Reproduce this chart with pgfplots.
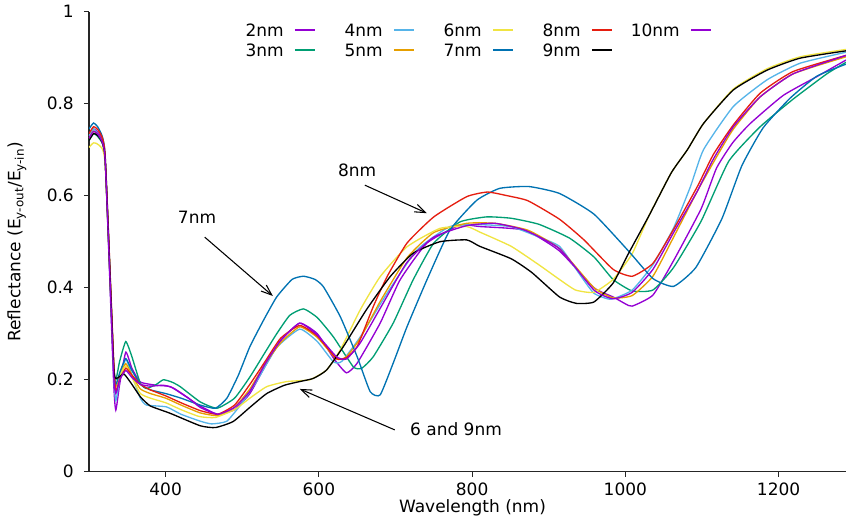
\documentclass[border=0pt]{standalone}
\usepackage{pgfplots}
\pgfplotsset{compat=1.18}
\usepackage{fontspec}
\setmainfont{DejaVu Sans}
\usetikzlibrary{arrows.meta}
\definecolor{cA}{HTML}{9400D3}
\definecolor{cB}{HTML}{009E73}
\definecolor{cC}{HTML}{56B4E9}
\definecolor{cD}{HTML}{E69F00}
\definecolor{cE}{HTML}{F0E442}
\definecolor{cF}{HTML}{0072B2}
\definecolor{cG}{HTML}{E51E10}
\begin{document}
\fontsize{12.75pt}{15pt}\selectfont
\begin{tikzpicture}
\begin{axis}[
  scale only axis,
  width=567.75pt, height=345pt,
  xmin=300, xmax=1288, ymin=0, ymax=1,
  axis lines*=left,
  axis line style={-, line width=0.9pt, black!85},
  tick style={line width=0.9pt, black!85},
  tick align=outside,
  major tick length=3.75pt,
  xtick={400,600,800,1000,1200},
  ytick={0,0.2,0.4,0.6,0.8,1},
  /pgf/number format/assume math mode=true,
  /pgf/number format/1000 sep={},
  yticklabel style={xshift=-3.2pt},
  xlabel={Wavelength (nm)},
  ylabel={Reflectance (E\textsubscript{y-out}/E\textsubscript{y-in})},
  every axis x label/.style={at={(axis description cs:0.5066,-0.0789)}, anchor=center},
  every axis y label/.style={at={(axis description cs:-0.0951,0.5)}, anchor=center, rotate=90},
  every axis plot/.append style={line width=1pt, smooth, tension=0.3},
]
% 2nm
\addplot[cA] coordinates {
(300,0.73)(306,0.745)(313,0.735)(321,0.68)(332,0.20)(335,0.134)(340,0.19)(348,0.26)(356,0.225)(367,0.195)(388,0.188)(406,0.185)(425,0.165)(445,0.143)(468,0.125)(490,0.135)(510,0.17)(530,0.23)(550,0.285)(575,0.323)(598,0.30)(620,0.245)(636,0.215)(650,0.236)(680,0.323)(706,0.417)(741,0.497)(784,0.536)(810,0.533)(869,0.525)(914,0.48)(959,0.40)(984,0.38)(1000,0.365)(1009,0.36)(1036,0.384)(1063,0.459)(1099,0.572)(1119,0.66)(1140,0.715)(1163,0.757)(1206,0.818)(1250,0.859)(1288,0.895)};
% 3nm
\addplot[cB] coordinates {
(300,0.72)(306,0.735)(313,0.725)(321,0.68)(332,0.24)(335,0.20)(340,0.24)(348,0.283)(356,0.25)(367,0.192)(375,0.181)(388,0.19)(397,0.20)(408,0.195)(419,0.185)(445,0.152)(467,0.138)(490,0.16)(510,0.206)(530,0.26)(545,0.30)(562,0.34)(580,0.354)(598,0.335)(619,0.293)(645,0.228)(656,0.225)(671,0.25)(697,0.323)(723,0.417)(750,0.497)(784,0.543)(819,0.554)(851,0.551)(887,0.538)(927,0.508)(959,0.467)(984,0.418)(1009,0.393)(1036,0.395)(1063,0.444)(1099,0.545)(1135,0.675)(1176,0.75)(1219,0.81)(1263,0.865)(1288,0.89)};
% 4nm
\addplot[cC] coordinates {
(300,0.73)(306,0.745)(313,0.73)(321,0.68)(332,0.22)(335,0.155)(340,0.20)(348,0.245)(356,0.21)(367,0.16)(375,0.145)(401,0.141)(420,0.125)(445,0.11)(460,0.104)(480,0.11)(500,0.15)(520,0.20)(545,0.27)(575,0.31)(598,0.283)(619,0.239)(630,0.24)(654,0.293)(689,0.388)(728,0.482)(771,0.533)(810,0.537)(850,0.533)(880,0.515)(914,0.49)(940,0.43)(959,0.388)(981,0.375)(1009,0.395)(1036,0.45)(1063,0.53)(1085,0.62)(1102,0.70)(1141,0.794)(1185,0.852)(1228,0.888)(1288,0.912)};
% 5nm
\addplot[cD] coordinates {
(300,0.725)(306,0.74)(313,0.73)(321,0.68)(332,0.24)(335,0.185)(340,0.21)(348,0.235)(356,0.21)(367,0.18)(380,0.17)(400,0.16)(420,0.145)(445,0.128)(468,0.122)(490,0.14)(510,0.18)(530,0.235)(550,0.28)(575,0.315)(598,0.292)(623,0.245)(636,0.25)(654,0.29)(680,0.37)(715,0.465)(750,0.52)(793,0.54)(830,0.54)(873,0.525)(914,0.485)(959,0.40)(984,0.378)(1009,0.383)(1036,0.425)(1063,0.51)(1094,0.61)(1121,0.69)(1141,0.745)(1176,0.815)(1219,0.865)(1288,0.902)};
% 6nm
\addplot[cE] coordinates {
(300,0.705)(306,0.715)(313,0.71)(321,0.67)(332,0.24)(335,0.19)(340,0.21)(348,0.23)(356,0.205)(367,0.17)(380,0.16)(400,0.15)(420,0.135)(444,0.12)(465,0.118)(490,0.135)(510,0.16)(532,0.185)(558,0.196)(588,0.20)(610,0.221)(628,0.265)(654,0.352)(680,0.424)(715,0.489)(758,0.529)(793,0.533)(810,0.521)(851,0.49)(887,0.45)(914,0.418)(935,0.395)(959,0.39)(984,0.418)(1009,0.474)(1031,0.557)(1060,0.65)(1081,0.70)(1102,0.757)(1141,0.832)(1185,0.876)(1228,0.902)(1288,0.918)};
% 7nm
\addplot[cF] coordinates {
(300,0.745)(306,0.758)(313,0.745)(321,0.69)(332,0.24)(335,0.19)(340,0.215)(348,0.246)(356,0.22)(367,0.19)(380,0.178)(400,0.17)(420,0.16)(445,0.145)(465,0.138)(480,0.16)(495,0.21)(510,0.272)(528,0.33)(545,0.38)(565,0.418)(580,0.425)(595,0.418)(606,0.402)(628,0.337)(650,0.25)(667,0.174)(680,0.167)(697,0.236)(715,0.315)(741,0.417)(771,0.525)(806,0.59)(836,0.616)(874,0.62)(914,0.605)(959,0.56)(1004,0.48)(1036,0.42)(1063,0.403)(1092,0.444)(1126,0.55)(1152,0.665)(1180,0.748)(1215,0.812)(1250,0.86)(1288,0.886)};
% 8nm
\addplot[cG] coordinates {
(300,0.735)(306,0.75)(313,0.74)(321,0.69)(332,0.25)(335,0.175)(340,0.20)(348,0.225)(356,0.21)(367,0.19)(380,0.178)(400,0.165)(420,0.15)(445,0.133)(468,0.125)(490,0.145)(510,0.19)(530,0.24)(550,0.29)(575,0.318)(598,0.295)(623,0.246)(636,0.248)(650,0.272)(671,0.359)(689,0.424)(715,0.497)(750,0.554)(793,0.598)(820,0.608)(846,0.60)(873,0.589)(914,0.549)(946,0.504)(984,0.44)(1009,0.425)(1036,0.453)(1063,0.527)(1094,0.62)(1115,0.69)(1141,0.754)(1176,0.823)(1219,0.87)(1288,0.905)};
% 9nm
\addplot[black] coordinates {
(300,0.72)(306,0.735)(313,0.728)(321,0.68)(332,0.235)(335,0.203)(340,0.207)(346,0.212)(356,0.19)(367,0.163)(380,0.143)(406,0.127)(445,0.10)(465,0.096)(488,0.109)(510,0.14)(532,0.17)(555,0.188)(575,0.196)(593,0.203)(610,0.221)(632,0.272)(662,0.352)(693,0.424)(723,0.475)(758,0.50)(793,0.504)(810,0.49)(851,0.463)(878,0.433)(914,0.38)(936,0.366)(959,0.369)(984,0.41)(1004,0.474)(1031,0.557)(1060,0.65)(1081,0.70)(1102,0.757)(1141,0.83)(1185,0.873)(1228,0.899)(1288,0.915)};
% 10nm
\addplot[cA] coordinates {
(300,0.725)(306,0.74)(313,0.73)(321,0.68)(332,0.22)(335,0.17)(340,0.20)(348,0.22)(356,0.205)(367,0.19)(380,0.186)(397,0.188)(410,0.182)(430,0.16)(445,0.14)(468,0.125)(490,0.14)(510,0.175)(530,0.235)(550,0.285)(575,0.323)(598,0.297)(623,0.25)(636,0.245)(654,0.28)(680,0.355)(715,0.455)(750,0.51)(793,0.535)(830,0.54)(869,0.525)(914,0.485)(959,0.395)(984,0.376)(1009,0.39)(1036,0.44)(1063,0.52)(1094,0.61)(1115,0.68)(1141,0.75)(1176,0.815)(1219,0.865)(1288,0.905)};
% legend (row 1: 2,4,6,8,10 ; row 2: 3,5,7,9)
\node[anchor=base east, inner sep=0pt] at (axis description cs:0.2576,0.9467) {2nm};
\draw[cA, line width=1.1pt] (axis description cs:0.2721,0.9600) -- (axis description cs:0.2986,0.9600);
\node[anchor=base east, inner sep=0pt] at (axis description cs:0.3884,0.9467) {4nm};
\draw[cC, line width=1.1pt] (axis description cs:0.4029,0.9600) -- (axis description cs:0.4294,0.9600);
\node[anchor=base east, inner sep=0pt] at (axis description cs:0.5192,0.9467) {6nm};
\draw[cE, line width=1.1pt] (axis description cs:0.5337,0.9600) -- (axis description cs:0.5602,0.9600);
\node[anchor=base east, inner sep=0pt] at (axis description cs:0.6500,0.9467) {8nm};
\draw[cG, line width=1.1pt] (axis description cs:0.6645,0.9600) -- (axis description cs:0.6910,0.9600);
\node[anchor=base east, inner sep=0pt] at (axis description cs:0.7808,0.9467) {10nm};
\draw[cA, line width=1.1pt] (axis description cs:0.7953,0.9600) -- (axis description cs:0.8218,0.9600);
\node[anchor=base east, inner sep=0pt] at (axis description cs:0.2576,0.9032) {3nm};
\draw[cB, line width=1.1pt] (axis description cs:0.2721,0.9165) -- (axis description cs:0.2986,0.9165);
\node[anchor=base east, inner sep=0pt] at (axis description cs:0.3884,0.9032) {5nm};
\draw[cD, line width=1.1pt] (axis description cs:0.4029,0.9165) -- (axis description cs:0.4294,0.9165);
\node[anchor=base east, inner sep=0pt] at (axis description cs:0.5192,0.9032) {7nm};
\draw[cF, line width=1.1pt] (axis description cs:0.5337,0.9165) -- (axis description cs:0.5602,0.9165);
\node[anchor=base east, inner sep=0pt] at (axis description cs:0.6500,0.9032) {9nm};
\draw[black, line width=1.1pt] (axis description cs:0.6645,0.9165) -- (axis description cs:0.6910,0.9165);
% annotations
\node at (axis cs:441,0.554) {7nm};
\draw[line width=0.8pt, -{Straight Barb[length=8pt,width=6pt]}] (axis cs:451,0.510) -- (axis cs:540,0.382);
\node at (axis cs:650,0.656) {8nm};
\draw[line width=0.8pt, -{Straight Barb[length=8pt,width=6pt]}] (axis cs:660,0.623) -- (axis cs:741,0.562);
\node at (axis cs:779,0.093) {6 and 9nm};
\draw[line width=0.8pt, -{Straight Barb[length=8pt,width=6pt]}] (axis cs:699,0.091) -- (axis cs:575,0.180);
\end{axis}
\pgfresetboundingbox
\path[use as bounding box] (-66.75pt,-36.2pt) rectangle (567.75pt,353.8pt);
\end{tikzpicture}
\end{document}
